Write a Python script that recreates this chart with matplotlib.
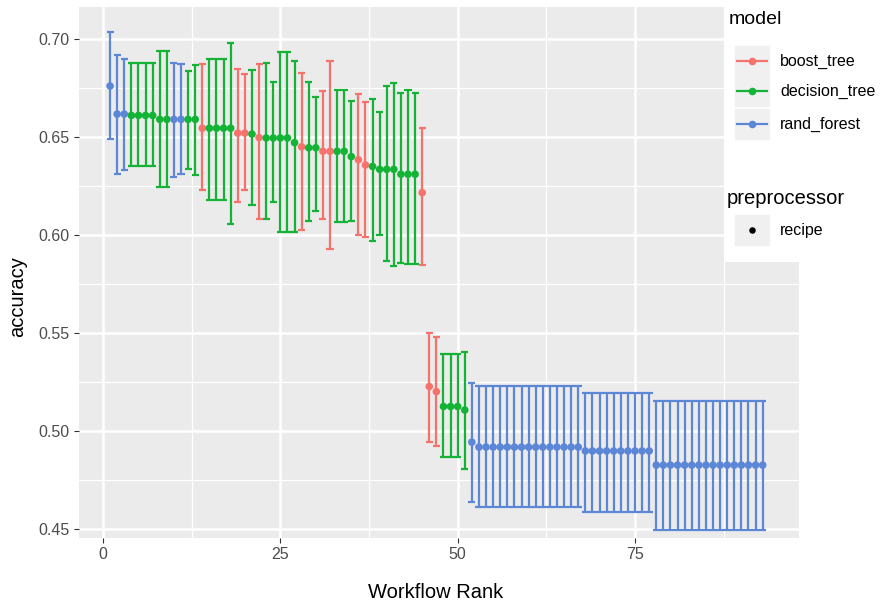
import numpy as np
import matplotlib
matplotlib.use("Agg")
import matplotlib.pyplot as plt
from matplotlib.patches import Rectangle

plt.rcParams["font.family"] = ["Liberation Sans", "DejaVu Sans"]

# one entry per workflow rank
models = (["rand_forest"] * 3 + ["decision_tree"] * 6 + ["rand_forest"] * 2
          + ["decision_tree"] * 2 + ["boost_tree"] + ["decision_tree"] * 4
          + ["boost_tree"] * 2 + ["decision_tree"] + ["boost_tree"]
          + ["decision_tree"] * 5 + ["boost_tree"] + ["decision_tree"] * 2
          + ["boost_tree"] * 2 + ["decision_tree"] * 3 + ["boost_tree"] * 2
          + ["decision_tree"] * 7 + ["boost_tree"] * 3 + ["decision_tree"] * 4
          + ["rand_forest"] * 42)

mean_acc = [0.676, 0.6617, 0.6617, 0.661, 0.661, 0.661, 0.661, 0.659, 0.659, 0.659,
            0.659, 0.659, 0.659, 0.6545, 0.6545, 0.6545, 0.6545, 0.6545, 0.652, 0.652,
            0.6515, 0.6497, 0.6495, 0.6495, 0.6495, 0.6495, 0.6471, 0.645, 0.6445, 0.6445,
            0.6427, 0.6427, 0.6427, 0.6427, 0.640, 0.6384, 0.6357, 0.635, 0.6335, 0.6335,
            0.6335, 0.631, 0.631, 0.631, 0.6216, 0.5227, 0.5201, 0.5125, 0.5125, 0.5125,
            0.5107, 0.4943,
            0.4918, 0.4918, 0.4918, 0.4918, 0.4918, 0.4918, 0.4918, 0.4918, 0.4918, 0.4918,
            0.4918, 0.4918, 0.4918, 0.4918, 0.4918,
            0.4898, 0.4898, 0.4898, 0.4898, 0.4898, 0.4898, 0.4898, 0.4898, 0.4898, 0.4898,
            0.4826, 0.4826, 0.4826, 0.4826, 0.4826, 0.4826, 0.4826, 0.4826, 0.4826, 0.4826,
            0.4826, 0.4826, 0.4826, 0.4826, 0.4826, 0.4826]

lower_acc = [0.649, 0.631, 0.633, 0.635, 0.635, 0.635, 0.635, 0.6245, 0.6245, 0.6296,
             0.631, 0.6337, 0.6305, 0.623, 0.618, 0.618, 0.618, 0.6055, 0.6168, 0.623,
             0.6155, 0.608, 0.608, 0.6168, 0.6013, 0.6013, 0.6013, 0.6026, 0.607, 0.6124,
             0.608, 0.5928, 0.6064, 0.6064, 0.607, 0.6002, 0.5992, 0.5968, 0.600, 0.5865,
             0.5843, 0.5855, 0.585, 0.585, 0.5847, 0.4942, 0.4925, 0.4866, 0.4866, 0.4866,
             0.4806, 0.4640,
             0.4610, 0.4610, 0.4610, 0.4610, 0.4610, 0.4610, 0.4610, 0.4610, 0.4610, 0.4610,
             0.4610, 0.4610, 0.4610, 0.4610, 0.4610,
             0.4589, 0.4589, 0.4589, 0.4589, 0.4589, 0.4589, 0.4589, 0.4589, 0.4589, 0.4589,
             0.4495, 0.4495, 0.4495, 0.4495, 0.4495, 0.4495, 0.4495, 0.4495, 0.4495, 0.4495,
             0.4495, 0.4495, 0.4495, 0.4495, 0.4495, 0.4495]

upper_acc = [0.7037, 0.692, 0.690, 0.688, 0.688, 0.688, 0.688, 0.694, 0.694, 0.688,
             0.687, 0.6837, 0.6867, 0.687, 0.690, 0.690, 0.690, 0.698, 0.6845, 0.682,
             0.684, 0.687, 0.6877, 0.678, 0.6935, 0.6935, 0.6887, 0.6826, 0.678, 0.6706,
             0.6737, 0.6887, 0.674, 0.674, 0.6686, 0.672, 0.668, 0.6693, 0.663, 0.676,
             0.6776, 0.6723, 0.674, 0.6727, 0.6545, 0.5499, 0.5479, 0.5393, 0.5393, 0.5393,
             0.5405, 0.5246,
             0.523, 0.523, 0.523, 0.523, 0.523, 0.523, 0.523, 0.523, 0.523, 0.523,
             0.523, 0.523, 0.523, 0.523, 0.523,
             0.5194, 0.5194, 0.5194, 0.5194, 0.5194, 0.5194, 0.5194, 0.5194, 0.5194, 0.5194,
             0.5155, 0.5155, 0.5155, 0.5155, 0.5155, 0.5155, 0.5155, 0.5155, 0.5155, 0.5155,
             0.5155, 0.5155, 0.5155, 0.5155, 0.5155, 0.5155]

model_names = ["boost_tree", "decision_tree", "rand_forest"]
model_colors = {"boost_tree": "#F5736C", "decision_tree": "#13B436", "rand_forest": "#5C86D6"}

W, H = 883, 606
# panel edges in pixels
px_l, px_r, px_t, px_b = 79, 799, 7, 538
fig = plt.figure(figsize=(W / 100, H / 100), dpi=100)
ax = fig.add_axes([px_l / W, (H - px_b) / H, (px_r - px_l) / W, (px_b - px_t) / H])

ranks = np.arange(1, len(mean_acc) + 1)
mean_acc = np.array(mean_acc)
lower_acc = np.array(lower_acc)
upper_acc = np.array(upper_acc)
cols = [model_colors[m] for m in models]

ax.set_facecolor("#EBEBEB")
for x in [12.5, 37.5, 62.5, 87.5]:
    ax.axvline(x, color="white", lw=0.9, zorder=0)
for y in [0.475, 0.525, 0.575, 0.625, 0.675]:
    ax.axhline(y, color="white", lw=0.9, zorder=0)
for x in [0, 25, 50, 75]:
    ax.axvline(x, color="white", lw=1.8, zorder=0)
for y in [0.45, 0.50, 0.55, 0.60, 0.65, 0.70]:
    ax.axhline(y, color="white", lw=1.8, zorder=0)

ax.vlines(ranks, lower_acc, upper_acc, colors=cols, lw=1.6, zorder=2)
ax.hlines(lower_acc, ranks - 0.5, ranks + 0.5, colors=cols, lw=1.6, zorder=2)
ax.hlines(upper_acc, ranks - 0.5, ranks + 0.5, colors=cols, lw=1.6, zorder=2)
ax.scatter(ranks, mean_acc, c=cols, s=30, zorder=3, linewidths=0)

# x: 0 -> 103 px, 75 -> 635 px ; y: 0.70 -> 39 px, 0.45 -> 529 px
xs = (635 - 103) / 75
ax.set_xlim((px_l - 103) / xs, (px_r - 103) / xs)
ys = (529 - 39) / 0.25
ax.set_ylim(0.45 - (px_b - 529) / ys, 0.70 + (39 - px_t) / ys)
ax.set_xticks([0, 25, 50, 75])
ax.set_yticks([0.45, 0.50, 0.55, 0.60, 0.65, 0.70])
ax.set_yticklabels(["0.45", "0.50", "0.55", "0.60", "0.65", "0.70"])
for s in ax.spines.values():
    s.set_visible(False)
ax.tick_params(length=3.5, width=0.8, color="#333333", labelcolor="#4D4D4D",
               labelsize=11.5, pad=3)
fig.text(436 / W, 1 - 593 / H, "Workflow Rank", fontsize=14.5, ha="center", va="center")
fig.text(18 / W, 1 - 297 / H, "accuracy", fontsize=14.5, ha="center", va="center",
         rotation=90)

# legend drawn in pixel units
lx0, lh = 724, 262
lax = fig.add_axes([lx0 / W, (H - lh) / H, (W - lx0) / W, lh / H])
lax.set_xlim(lx0, W)
lax.set_ylim(lh, 0)
lax.set_axis_off()
lax.add_patch(Rectangle((lx0, 0), W - lx0, lh, color="white", zorder=0))
lax.text(729, 20, "model", fontsize=14, va="center", ha="left")
key_y = [61, 91, 124]
for name, yy in zip(model_names, key_y):
    lax.add_patch(Rectangle((735, yy - 15), 34, 30, color="#F0F0F0", zorder=1))
    lax.plot([737, 767], [yy, yy], color=model_colors[name], lw=1.6, zorder=2)
    lax.scatter([752], [yy], color=model_colors[name], s=30, zorder=3, linewidths=0)
    lax.text(780, yy, name, fontsize=11.5, va="center", ha="left")
lax.text(727, 198, "preprocessor", fontsize=14.5, va="center", ha="left")
lax.add_patch(Rectangle((735, 215), 34, 30, color="#F0F0F0", zorder=1))
lax.scatter([752], [230], color="black", s=22, zorder=3, linewidths=0)
lax.text(780, 230, "recipe", fontsize=11.5, va="center", ha="left")

fig.savefig("out.png", dpi=100)
